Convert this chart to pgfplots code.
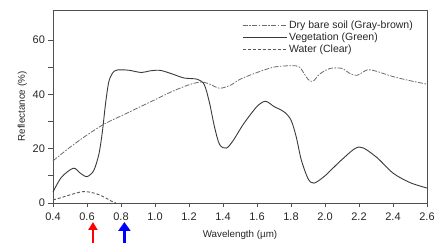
\documentclass[border=0pt]{standalone}
\usepackage{fontspec}
\setmainfont{Liberation Sans}
\usepackage{pgfplots}
\pgfplotsset{compat=1.18}
\usetikzlibrary{arrows.meta,calc}
\definecolor{curve}{HTML}{3A3A3A}
\definecolor{soilc}{HTML}{6A6A6A}
\definecolor{frame}{HTML}{505050}
\begin{document}
\begin{tikzpicture}
\begin{axis}[
  name=ax,
  scale only axis,
  width=374pt, height=193pt,
  xmin=0.4, xmax=2.6, ymin=0, ymax=71,
  xtick={0.4,0.6,...,2.6},
  ytick={0,10,...,60},
  yticklabels={0,,20,,40,,60},
  xticklabel style={/pgf/number format/fixed,/pgf/number format/fixed zerofill,/pgf/number format/precision=1, yshift=-2pt},
  /pgf/number format/assume math mode=true,
  tick label style={font=\fontsize{11}{12}\selectfont, text=black!85},
  tick align=outside,
  xtick pos=bottom, ytick pos=left,
  major tick length=4.5pt,
  axis line style={frame, line width=0.9pt},
  tick style={frame, line width=0.7pt},
  xlabel={Wavelength (µm)},
  ylabel={Reflectance (\%)},
  label style={font=\fontsize{9.8}{11}\selectfont, text=black!85},
  xlabel style={yshift=-3pt},
  ylabel style={yshift=-1pt},
  legend style={draw=none, fill=none, at={(0.976,0.965)}, anchor=north east,
    font=\fontsize{10.5}{11.5}\selectfont, text=black!85, row sep=-1pt},
  legend cell align=left,
  legend image code/.code={\draw[#1] (0pt,0pt) -- (44pt,0pt);},
  clip=false,
]
\addplot[soilc, line width=0.8pt, dash pattern=on 5pt off 1.5pt on 1.5pt off 1.5pt, smooth, tension=0.5] coordinates {
(0.4,15.5) (0.5,20.5) (0.6,25) (0.7,29) (0.8,32) (0.9,35) (1.0,38) (1.1,41) (1.2,43.5) (1.27,44.5) (1.32,43.8) (1.38,42.2) (1.45,43.5) (1.5,45.5) (1.6,48) (1.7,50) (1.8,50.5) (1.85,50) (1.9,45.5) (1.93,44.8) (1.97,47.5) (2.03,49.5) (2.1,49.5) (2.15,47.5) (2.19,47) (2.25,49) (2.3,48.5) (2.4,46.5) (2.5,45) (2.6,43.7)};
\addlegendentry{Dry bare soil (Gray-brown)}
\addplot[curve, line width=0.9pt, smooth, tension=0.5] coordinates {
(0.4,4) (0.45,9.5) (0.52,12.8) (0.56,11) (0.6,9.7) (0.64,12) (0.67,18) (0.69,26) (0.71,37) (0.73,45) (0.76,48.5) (0.8,49) (0.85,48.8) (0.92,48) (0.97,48.6) (1.03,48.8) (1.1,47.5) (1.17,46) (1.25,45.5) (1.29,43.5) (1.32,37) (1.35,28) (1.38,21.5) (1.42,20.2) (1.46,23) (1.52,29) (1.6,35.5) (1.65,37.4) (1.7,35.5) (1.76,33.5) (1.8,30.5) (1.83,24.5) (1.86,16) (1.9,9) (1.935,7.3) (2.0,10) (2.1,16) (2.2,20.6) (2.3,17) (2.4,11) (2.5,7.5) (2.6,5.5)};
\addlegendentry{Vegetation (Green)}
\addplot[curve!85, line width=0.9pt, dash pattern=on 3pt off 2pt, smooth, tension=0.5] coordinates {
(0.4,1.1) (0.45,2) (0.5,3) (0.58,4.2) (0.65,3.5) (0.7,2.2) (0.74,0.8) (0.77,0)};
\addlegendentry{Water (Clear)}
\coordinate (redA) at (axis cs:0.635,0);
\coordinate (blueA) at (axis cs:0.82,0);
\end{axis}
\draw[red, line width=2.2pt, -{Triangle[width=9pt,length=8pt]}] ($(redA)+(0pt,-40pt)$) -- ($(redA)+(0pt,-19pt)$);
\draw[blue, line width=3pt, -{Triangle[width=12pt,length=9pt]}] ($(blueA)+(0pt,-40pt)$) -- ($(blueA)+(0pt,-19pt)$);
\pgfresetboundingbox
\path ($(ax.south west)+(-53pt,-40pt)$) rectangle ($(ax.north east)+(7pt,10pt)$);
\end{tikzpicture}
\end{document}
